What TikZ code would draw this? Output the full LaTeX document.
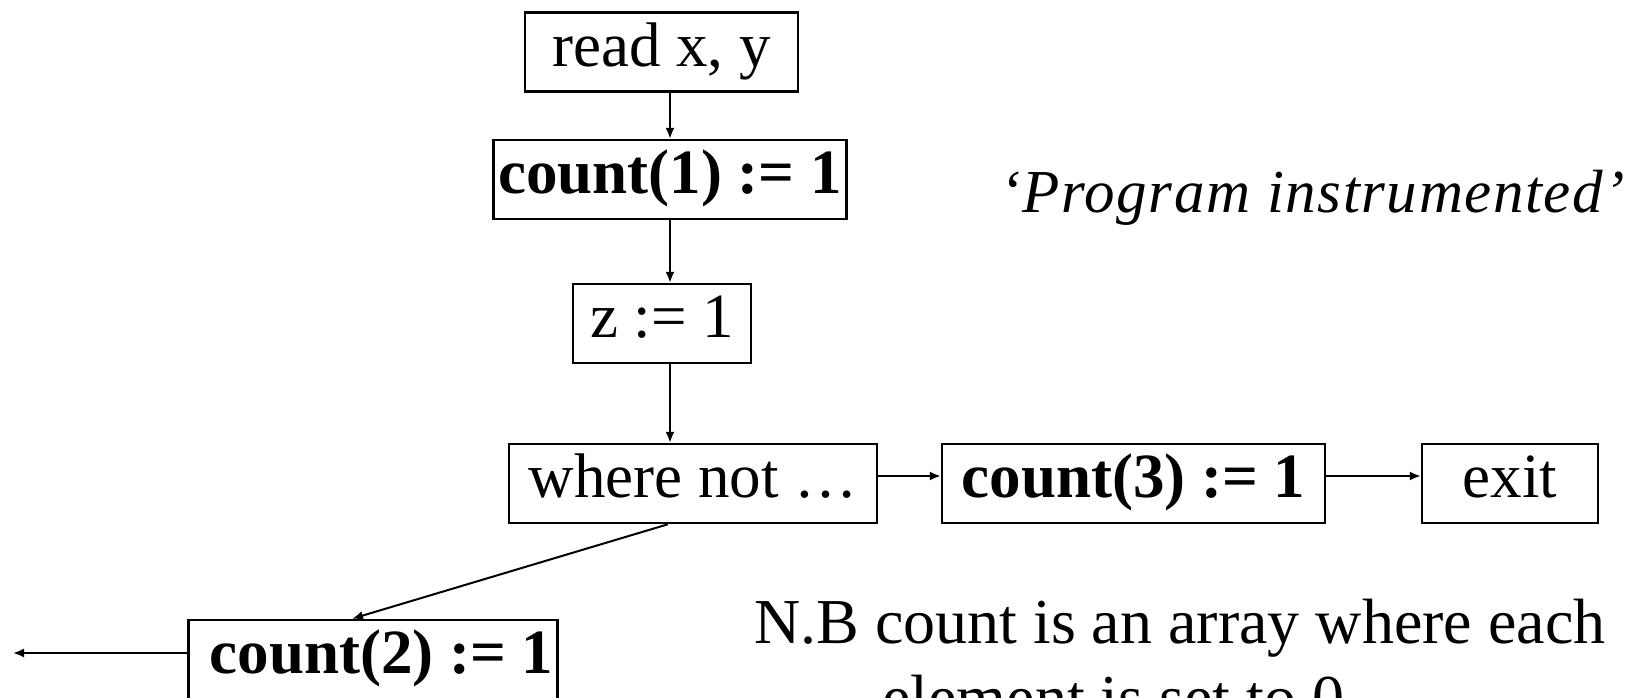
\documentclass[tikz,border=0pt]{standalone}
\usepackage{fontspec}
\setmainfont{Liberation Serif}
\usetikzlibrary{arrows.meta}
\tikzset{
  box/.style={draw, line width=2.5pt, inner sep=0pt, minimum height=79pt, font=\fontsize{63}{70}\selectfont},
  boldbox/.style={box, font=\fontsize{63}{70}\selectfont\bfseries},
  arr/.style={line width=2pt, -{Latex[length=11pt,width=9pt]}},
  note/.style={inner sep=0pt, font=\fontsize{64}{76}\selectfont},
}
\begin{document}
\begin{tikzpicture}[x=1pt,y=-1pt]
\useasboundingbox (0,0) rectangle (1631,697);
\clip (0,0) rectangle (1631,697);
\node[box, minimum width=273pt] (read) at (661.5,52) {\strut read x, y};
\node[boldbox, minimum width=353pt] (c1) at (670,179.5) {\strut count(1) := 1};
\node[box, minimum width=178pt] (z) at (662,323.5) {\strut z := 1};
\node[box, minimum width=368pt] (where) at (693,483.5) {\strut where not \dots};
\node[boldbox, minimum width=383pt] (c3) at (1133.5,483.5) {\strut count(3) := 1};
\node[box, minimum width=176pt] (exit) at (1510,483.5) {\strut exit};
\node[boldbox, minimum width=369pt] (c2) at (373,659.5) {\hspace*{17pt}\strut count(2) := 1};
\node[note, anchor=base, font=\fontsize{61}{70}\selectfont\itshape\addfontfeature{LetterSpace=2.6}] (title) at (1313,212) {`Program instrumented'};
\node[note, anchor=base west] (nb1) at (754,643) {N.B count is an array where each};
\node[note, anchor=base west] (nb2) at (882,719) {element is set to 0};
\coordinate (vx) at (670,0);
\coordinate (hy) at (0,476);
\coordinate (dstart) at (668,523);
\coordinate (dend) at (352,619);
\coordinate (out) at (13,653);
\draw[arr] (read.south -| vx) -- (c1.north -| vx);
\draw[arr] (c1.south -| vx) -- (z.north -| vx);
\draw[arr] (z.south -| vx) -- (where.north -| vx);
\draw[arr] (where.east |- hy) -- (c3.west |- hy);
\draw[arr] (c3.east |- hy) -- (exit.west |- hy);
\draw[arr] (where.south -| dstart) -- (c2.north -| dend);
\draw[arr] (c2.west |- out) -- (out);
\end{tikzpicture}
\end{document}
